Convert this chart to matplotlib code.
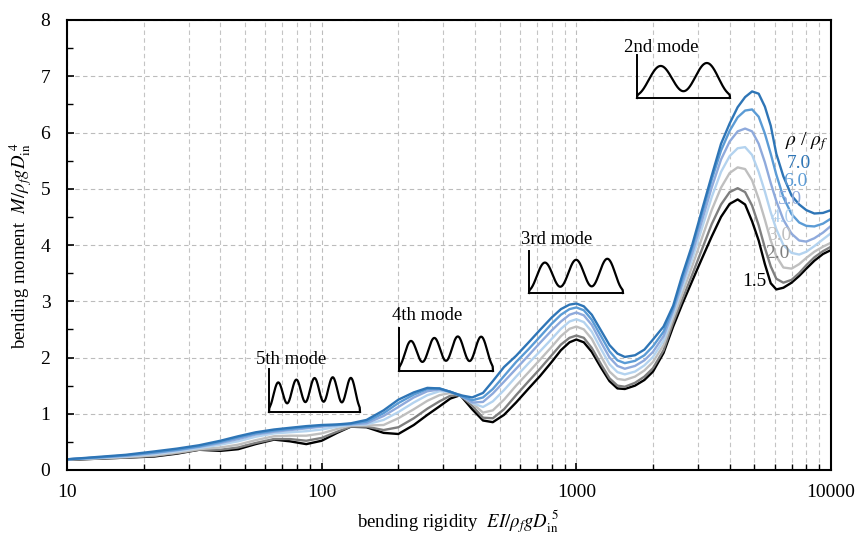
import numpy as np
import matplotlib
matplotlib.use('Agg')
import matplotlib.pyplot as plt
from matplotlib.ticker import NullFormatter, FuncFormatter, MultipleLocator

plt.rcParams['font.family'] = ['Liberation Serif', 'DejaVu Serif']
plt.rcParams['mathtext.fontset'] = 'stix'

# bending rigidity EI / rho_f g D_in^5
rigidity = [10, 13, 17, 22, 27, 33, 40, 47, 55, 65, 75, 87, 100, 115, 130, 150,
            175, 200, 230, 260, 290, 320, 350, 390, 430, 470,
            520, 580, 650, 720, 800, 870, 940, 1000, 1070, 1150, 1250, 1350, 1450, 1550, 1700, 1850,
            2000, 2200, 2400, 2600, 2850, 3100, 3400, 3700, 4000, 4300, 4600, 4900, 5200,
            5500, 5800, 6100, 6500, 7000, 7500, 8000, 8600, 9300, 10000]

# bending moment M / rho_f g D_in^4 for each density ratio rho/rho_f
m_15 = [0.18, 0.20, 0.22, 0.24, 0.29, 0.36, 0.34, 0.37, 0.46, 0.54, 0.51, 0.46, 0.52, 0.66, 0.77, 0.76,
        0.66, 0.64, 0.80, 0.98, 1.13, 1.27, 1.33, 1.08, 0.88, 0.85,
        0.98, 1.20, 1.45, 1.67, 1.92, 2.13, 2.27, 2.32, 2.27, 2.10, 1.82, 1.58, 1.45, 1.44, 1.50, 1.60,
        1.75, 2.08, 2.55, 2.94, 3.36, 3.74, 4.15, 4.50, 4.73, 4.81, 4.72, 4.42, 4.08,
        3.66, 3.32, 3.21, 3.24, 3.33, 3.45, 3.58, 3.72, 3.84, 3.91]
m_20 = [0.18, 0.20, 0.22, 0.25, 0.30, 0.36, 0.36, 0.40, 0.48, 0.55, 0.55, 0.52, 0.57, 0.68, 0.77, 0.77,
        0.71, 0.76, 0.92, 1.09, 1.22, 1.32, 1.33, 1.14, 0.93, 0.92,
        1.08, 1.33, 1.58, 1.80, 2.04, 2.23, 2.35, 2.39, 2.35, 2.17, 1.88, 1.63, 1.50, 1.48, 1.55, 1.66,
        1.81, 2.13, 2.62, 3.02, 3.47, 3.90, 4.37, 4.72, 4.94, 5.01, 4.94, 4.70, 4.35,
        3.95, 3.62, 3.40, 3.33, 3.38, 3.50, 3.64, 3.78, 3.89, 3.97]
m_30 = [0.19, 0.21, 0.23, 0.26, 0.31, 0.37, 0.40, 0.45, 0.53, 0.60, 0.61, 0.61, 0.65, 0.73, 0.79, 0.79,
        0.80, 0.92, 1.08, 1.23, 1.33, 1.37, 1.34, 1.19, 1.02, 1.06,
        1.25, 1.50, 1.74, 1.96, 2.19, 2.38, 2.51, 2.55, 2.50, 2.33, 2.02, 1.75, 1.62, 1.60, 1.66, 1.77,
        1.92, 2.22, 2.70, 3.12, 3.62, 4.10, 4.62, 5.02, 5.28, 5.38, 5.35, 5.15, 4.82,
        4.45, 4.08, 3.80, 3.60, 3.58, 3.66, 3.77, 3.88, 3.97, 4.04]
m_40 = [0.19, 0.21, 0.24, 0.28, 0.33, 0.39, 0.45, 0.51, 0.59, 0.65, 0.67, 0.69, 0.72, 0.77, 0.80, 0.81,
        0.89, 1.03, 1.20, 1.33, 1.40, 1.39, 1.33, 1.19, 1.12, 1.22,
        1.42, 1.66, 1.90, 2.11, 2.33, 2.51, 2.64, 2.68, 2.63, 2.46, 2.15, 1.88, 1.74, 1.70, 1.75, 1.86,
        2.01, 2.30, 2.77, 3.22, 3.75, 4.27, 4.85, 5.30, 5.58, 5.72, 5.74, 5.60, 5.30,
        4.95, 4.58, 4.28, 4.00, 3.86, 3.83, 3.88, 3.98, 4.10, 4.21]
m_50 = [0.19, 0.22, 0.25, 0.30, 0.35, 0.41, 0.48, 0.55, 0.63, 0.68, 0.71, 0.74, 0.77, 0.80, 0.81, 0.83,
        0.96, 1.12, 1.29, 1.40, 1.43, 1.39, 1.32, 1.20, 1.21, 1.36,
        1.57, 1.80, 2.04, 2.26, 2.48, 2.64, 2.76, 2.80, 2.75, 2.58, 2.27, 2.00, 1.85, 1.80, 1.85, 1.95,
        2.10, 2.38, 2.83, 3.30, 3.85, 4.40, 5.02, 5.52, 5.84, 6.02, 6.07, 6.02, 5.80,
        5.47, 5.10, 4.78, 4.45, 4.20, 4.08, 4.06, 4.12, 4.22, 4.34]
m_60 = [0.19, 0.22, 0.26, 0.31, 0.36, 0.42, 0.50, 0.58, 0.65, 0.70, 0.73, 0.76, 0.79, 0.80, 0.82, 0.86,
        1.01, 1.19, 1.34, 1.44, 1.45, 1.39, 1.32, 1.24, 1.29, 1.44,
        1.67, 1.92, 2.15, 2.37, 2.60, 2.76, 2.86, 2.89, 2.84, 2.67, 2.38, 2.11, 1.95, 1.90, 1.94, 2.04,
        2.20, 2.46, 2.88, 3.38, 3.95, 4.52, 5.16, 5.68, 6.03, 6.27, 6.39, 6.41, 6.28,
        5.98, 5.62, 5.25, 4.85, 4.55, 4.40, 4.34, 4.33, 4.38, 4.47]
m_70 = [0.19, 0.23, 0.27, 0.33, 0.38, 0.44, 0.52, 0.60, 0.67, 0.72, 0.75, 0.78, 0.80, 0.81, 0.83, 0.89,
        1.06, 1.25, 1.38, 1.46, 1.45, 1.39, 1.33, 1.29, 1.37, 1.58,
        1.83, 2.03, 2.27, 2.49, 2.71, 2.86, 2.94, 2.96, 2.91, 2.76, 2.48, 2.22, 2.07, 2.01, 2.04, 2.14,
        2.32, 2.55, 2.92, 3.45, 4.00, 4.59, 5.23, 5.80, 6.16, 6.45, 6.63, 6.73, 6.69,
        6.46, 6.12, 5.62, 5.22, 4.88, 4.72, 4.62, 4.56, 4.57, 4.62]

ratio_labels = ['1.5', '2.0', '3.0', '4.0', '5.0', '6.0', '7.0']
colors = ['#000000', '#7f7f7f', '#bfbfbf', '#b4d3ef', '#8faadc', '#5b9bd5', '#2e75b6']
series = [m_15, m_20, m_30, m_40, m_50, m_60, m_70]
# label positions in pixels (x, y centre)
label_px = [(754, 282), (777, 253), (779, 235), (783, 217), (790, 200), (795, 182), (799, 163)]

W, H = 857, 545
fig = plt.figure(figsize=(W / 100, H / 100), dpi=100)
ax = fig.add_axes([67 / W, 1 - 470 / H, (831 - 67) / W, 450 / H])

for m, c in zip(series, colors):
    ax.plot(rigidity, m, color=c, lw=1.7, solid_joinstyle='round')

ax.set_xscale('log')
ax.set_xlim(10, 10000)
ax.set_ylim(0, 8)
ax.xaxis.set_major_formatter(FuncFormatter(lambda v, p: f'{v:.0f}'))
ax.xaxis.set_minor_formatter(NullFormatter())
ax.yaxis.set_major_locator(MultipleLocator(1))
ax.yaxis.set_minor_locator(MultipleLocator(0.5))

ax.grid(which='major', axis='both', color='#bcbcbc', ls=(0, (4, 3)), lw=0.8)
ax.grid(which='minor', axis='x', color='#c4c4c4', ls=(0, (4, 3)), lw=0.8)
ax.tick_params(which='major', direction='in', length=5, width=1.2, labelsize=14, pad=10)
ax.tick_params(which='minor', direction='in', length=4, width=1.0)
ax.tick_params(axis='y', pad=12)
for s in ax.spines.values():
    s.set_linewidth(1.5)
ax.set_axisbelow(True)

fig.text(458 / W, 1 - 527 / H, r'bending rigidity  $EI/\rho_f gD_{\rm in}^{\ 5}$',
         ha='center', va='baseline', fontsize=13.5)
fig.text(26 / W, 1 - 245 / H, r'bending moment  $M/\rho_f gD_{\rm in}^{\ 4}$',
         ha='center', va='baseline', rotation=90, rotation_mode='anchor', fontsize=13.5)

# curve labels
fig.text(807 / W, 1 - 142 / H, r'$\rho$ / $\rho_f$', ha='center', va='center', fontsize=14)
for (px, py), lab, c in zip(label_px, ratio_labels, colors):
    fig.text(px / W, 1 - py / H, lab, ha='center', va='center', fontsize=14, color=c)

# mode shape sketches: (name, humps, left px, baseline px, width px, height px, text x px, text y px)
modes = [('2nd mode', 2, 637, 98, 93, 43, 624, 47),
         ('3rd mode', 3, 529, 293, 94, 42, 521, 239),
         ('4th mode', 4, 399, 371, 94, 43, 392, 316),
         ('5th mode', 5, 269, 412, 91, 43, 256, 360)]
t = np.linspace(0, 1, 300)
for name, n, lx, by, w, h, tx, ty in modes:
    iax = fig.add_axes([lx / W, 1 - by / H, w / W, h / H])
    iax.set_xlim(0, 1)
    iax.set_ylim(0, 1)
    iax.axis('off')
    dip = 0.2 if n < 4 else 0.3
    shape = ((1 - dip) * np.sin(n * np.pi * t) ** 2 + dip * np.sin(np.pi * t) ** 0.2) * (0.72 + 0.14 * t)
    iax.plot(t, shape, color='black', lw=1.6, clip_on=False)
    iax.plot([0, 0], [0, 1], color='black', lw=1.4, clip_on=False)
    iax.plot([0, 1], [0, 0], color='black', lw=1.4, clip_on=False)
    fig.text(tx / W, 1 - ty / H, name, ha='left', va='center', fontsize=13.5)

fig.savefig('out.png', dpi=100)
